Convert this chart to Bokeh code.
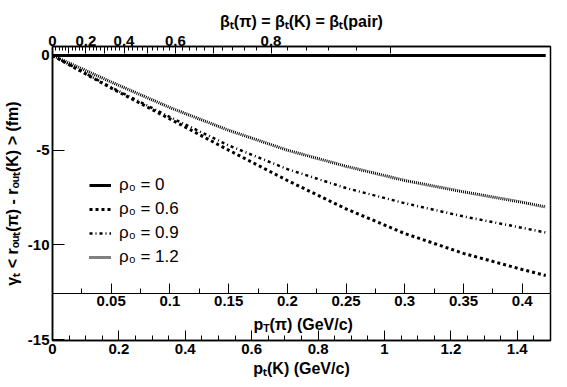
import math
from bokeh.plotting import figure
from bokeh.models import Range1d, LinearAxis, FixedTicker, CustomJSTickFormatter, Label
from bokeh.embed import file_html
from bokeh.resources import INLINE

# ---------------- data ----------------
M_PI = 0.13957
M_K = 0.49368
K_PER_PI = M_K / M_PI

pt_pi = [0.0, 0.05, 0.10, 0.15, 0.20, 0.25, 0.30, 0.35, 0.40, 0.42]
rho_00 = [0.0, 0.0, 0.0, 0.0, 0.0, 0.0, 0.0, 0.0, 0.0, 0.0]
rho_06 = [0.0, -1.72, -3.35, -5.0, -6.6, -8.1, -9.4, -10.45, -11.3, -11.62]
rho_09 = [0.0, -1.68, -3.25, -4.75, -6.0, -7.0, -7.8, -8.5, -9.1, -9.35]
rho_12 = [0.0, -1.4, -2.75, -3.95, -5.0, -5.85, -6.6, -7.2, -7.75, -8.0]
legend_labels = ["ρ₀ = 0", "ρ₀ = 0.6", "ρ₀ = 0.9", "ρ₀ = 1.2"]

pk_ticks = [0, 0.2, 0.4, 0.6, 0.8, 1.0, 1.2, 1.4]
pk_minor = [0.05, 0.1, 0.15, 0.25, 0.3, 0.35, 0.45, 0.5, 0.55, 0.65, 0.7, 0.75,
            0.85, 0.9, 0.95, 1.05, 1.1, 1.15, 1.25, 1.3, 1.35, 1.45]
ppi_ticks = [0.05, 0.1, 0.15, 0.2, 0.25, 0.3, 0.35, 0.4]
ppi_minor = [0.025, 0.075, 0.125, 0.175, 0.225, 0.275, 0.325, 0.375, 0.425]
beta_major = [0.0, 0.1, 0.2, 0.3, 0.4, 0.5, 0.6, 0.7, 0.8, 0.9]
beta_minor = [round(0.02 * i, 2) for i in range(46) if i % 5]
y_ticks = [0, -5, -10, -15]

TITLE_TOP = "βₜ(π) = βₜ(K) = βₜ(pair)"
TITLE_K = "pₜ(K) (GeV/c)"
TITLE_Y = "γₜ < rₒᵤₜ(π) - rₒᵤₜ(K) > (fm)"

PI_AXIS_Y = -12.57
X_MAX_K = 1.5


def p_of_beta(b):
    return M_PI * b / math.sqrt(1.0 - b * b)


# ---------------- figure ----------------
p = figure(width=567, height=387, output_backend="svg", toolbar_location=None,
           x_range=Range1d(0, X_MAX_K / K_PER_PI), y_range=Range1d(-15.05, 0.475),
           x_axis_location=None, y_axis_location=None,
           min_border_left=51, min_border_right=17, min_border_top=46, min_border_bottom=47)
p.extra_x_ranges = {"k": Range1d(0, X_MAX_K)}
p.grid.visible = False
p.outline_line_color = "black"
p.outline_line_width = 1.5
p.background_fill_color = "white"

FONT = "Liberation Sans"


def style_axis(ax, maj_in, min_in, lw=1.5, title=None):
    ax.axis_line_color = "black"
    ax.axis_line_width = lw
    ax.major_tick_in = maj_in
    ax.major_tick_out = 0
    ax.minor_tick_in = min_in
    ax.minor_tick_out = 0
    ax.major_tick_line_color = "black"
    ax.minor_tick_line_color = "black"
    ax.major_label_text_font = FONT
    ax.major_label_text_font_style = "bold"
    ax.major_label_text_font_size = "15px"
    ax.major_label_text_color = "black"
    ax.axis_label = title
    ax.axis_label_text_font = FONT
    ax.axis_label_text_font_style = "bold"
    ax.axis_label_text_font_size = "16px"
    ax.axis_label_text_color = "black"
    ax.axis_label_standoff = 3


# bottom p_T(K) axis
ax_k = LinearAxis(x_range_name="k",
                  ticker=FixedTicker(ticks=pk_ticks, minor_ticks=pk_minor),
                  formatter=CustomJSTickFormatter(code="return String(+tick.toFixed(3));"))
style_axis(ax_k, 10, 5, title=TITLE_K)
ax_k.major_label_standoff = 3
p.add_layout(ax_k, "below")

# inner p_T(pi) axis
ax_pi = LinearAxis(ticker=FixedTicker(ticks=ppi_ticks, minor_ticks=ppi_minor),
                   formatter=CustomJSTickFormatter(code="return String(+tick.toFixed(3));"),
                   fixed_location=PI_AXIS_Y)
style_axis(ax_pi, 10, 5, lw=1)
ax_pi.major_label_standoff = 2
p.add_layout(ax_pi, "below")

# top beta axis
ax_b = LinearAxis(ticker=FixedTicker(ticks=[p_of_beta(b) for b in beta_major],
                                     minor_ticks=[p_of_beta(b) for b in beta_minor]),
                  formatter=CustomJSTickFormatter(args=dict(m=M_PI), code="""
                      const b = tick / Math.sqrt(tick*tick + m*m);
                      const k = Math.round(b*10);
                      if (k % 2 == 1) return "";
                      return k == 0 ? "0" : (k/10).toFixed(1);
                  """))
style_axis(ax_b, 7, 4, title=TITLE_TOP)
ax_b.major_label_standoff = 1
p.add_layout(ax_b, "above")

# left y axis
ax_y = LinearAxis(ticker=FixedTicker(ticks=y_ticks, minor_ticks=[]),
                  formatter=CustomJSTickFormatter(code="return String(tick);"))
style_axis(ax_y, 12, 0, title=TITLE_Y)
ax_y.major_label_standoff = 3
ax_y.axis_label_standoff = 4
p.add_layout(ax_y, "left")

# ---------------- curves ----------------
p.line(pt_pi, rho_00, line_color="black", line_width=3, legend_label=legend_labels[0])
p.line(pt_pi, rho_06, line_color="black", line_width=3, line_dash="3 3",
       legend_label=legend_labels[1])
p.line(pt_pi, rho_09, line_color="black", line_width=2.5, line_dash="3 3 1 3",
       legend_label=legend_labels[2])
p.line(pt_pi, rho_12, line_color="black", line_width=3, line_dash="1 1",
       legend_label=legend_labels[3])

lg = p.legend[0]
lg.location = (37, 73)
lg.border_line_color = None
lg.background_fill_alpha = 0
lg.padding = 0
lg.margin = 0
lg.spacing = 4
lg.label_height = 20
lg.glyph_height = 20
lg.glyph_width = 22
lg.label_standoff = 8
lg.label_text_font = FONT
lg.label_text_font_size = "17px"
lg.label_text_color = "black"

# ---------------- inner p_T(pi) title with a true subscript ----------------
W = {' ': 0.278, '(': 0.333, ')': 0.333, '/': 0.278, 'G': 0.778, 'T': 0.611,
     'V': 0.667, 'c': 0.556, 'e': 0.556, 'p': 0.611, 'π': 0.62}
SUB = 0.65
DROP = 0.28


def twidth(s, size):
    return sum(W.get(ch, 0.6) for ch in s) * size


def rich(parts, cx, cy, size):
    sizes = [size * SUB if sub else size for _, sub in parts]
    total = sum(twidth(t, s) for (t, _), s in zip(parts, sizes))
    pos = -total / 2.0
    for (t, sub), s in zip(parts, sizes):
        drop = DROP * size if sub else 0.0
        p.add_layout(Label(x=cx + pos, y=cy - drop, x_units="screen", y_units="screen",
                           text=t, text_font=FONT, text_font_style="bold",
                           text_font_size=f"{s:.1f}px", text_color="black",
                           text_align="left", text_baseline="alphabetic"))
        pos += twidth(t, s)


rich([("p", False), ("T", True), ("(π) (GeV/c)", False)], 249.5, 16, 16)

open("out.html", "w").write(file_html(p, INLINE))
